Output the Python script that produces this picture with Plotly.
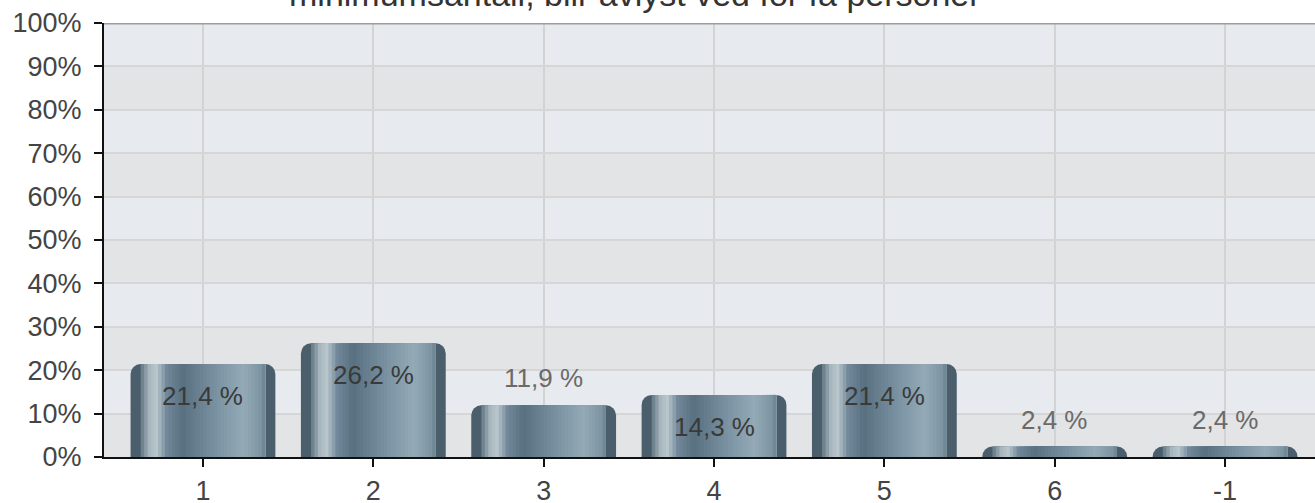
import plotly.graph_objects as go

# ---- data ----
categories = ["1", "2", "3", "4", "5", "6", "-1"]
values = [21.4, 26.2, 11.9, 14.3, 21.4, 2.4, 2.4]
label_inside = [True, True, False, True, True, False, False]
title_text = "minimumsantall, blir avlyst ved for få personer"
y_ticks = list(range(0, 101, 10))
y_tick_labels = [f"{v}%" for v in y_ticks]

FONT = "Liberation Sans, Arial, sans-serif"
BAR_W = 0.85

def hex_to_rgb(h):
    h = h.lstrip("#")
    return tuple(int(h[i:i + 2], 16) for i in (0, 2, 4))

profile = [(0.0, "#3d505b"), (0.06, "#566c79"), (0.13, "#a7b6be"), (0.18, "#b9c6cc"),
           (0.25, "#72889a"), (0.36, "#587080"), (0.58, "#7890a0"), (0.78, "#94aab6"),
           (0.9, "#7d94a2"), (0.96, "#556b78"), (1.0, "#3b4d58")]

def color_at(t):
    for (t0, c0), (t1, c1) in zip(profile[:-1], profile[1:]):
        if t0 <= t <= t1:
            f = (t - t0) / (t1 - t0) if t1 > t0 else 0
            a, b = hex_to_rgb(c0), hex_to_rgb(c1)
            r = [round(a[k] + (b[k] - a[k]) * f) for k in range(3)]
            return f"rgb({r[0]},{r[1]},{r[2]})"
    return profile[-1][1]

fig = go.Figure()

# base bar with rounded top
fig.add_trace(go.Bar(
    x=categories, y=values, width=BAR_W,
    marker=dict(color="#4a5f6b", cornerradius=10, line=dict(width=0)),
    hoverinfo="skip", showlegend=False,
))

# cylinder shading: layered strips, each reaching to the right shading edge
n_strips = 36
t_start, t_end = 0.07, 0.93
sw = (t_end - t_start) / n_strips
for i in range(n_strips):
    t0 = t_start + i * sw
    fig.add_trace(go.Bar(
        x=categories, y=values,
        width=(t_end - t0) * BAR_W,
        offset=-BAR_W / 2 + t0 * BAR_W,
        marker=dict(color=color_at(t0 + sw / 2), line=dict(width=0)),
        hoverinfo="skip", showlegend=False,
    ))

# value labels
annotations = []
for idx, (v, ins) in enumerate(zip(values, label_inside)):
    annotations.append(dict(
        x=idx, y=v, xref="x", yref="y",
        text=f"{v:.1f}".replace(".", ",") + " %",
        showarrow=False, yanchor="middle",
        yshift=-32 if ins else 27,
        font=dict(family=FONT, size=26, color="#3a3a3a" if ins else "#6a6a6a"),
    ))

annotations.append(dict(
    x=0.4385, y=1, xref="paper", yref="paper",
    text=title_text, showarrow=False, xanchor="center", yanchor="bottom",
    yshift=8, font=dict(family=FONT, size=34, color="#333333"),
))

shapes = []
# alternating background bands
for lo in range(10, 100, 20):
    shapes.append(dict(type="rect", xref="paper", yref="y", x0=0, x1=1, y0=lo, y1=lo + 10,
                       fillcolor="#e7eaee", line=dict(width=0), layer="below"))
# top border
shapes.append(dict(type="line", xref="paper", yref="y", x0=0, x1=1, y0=100, y1=100,
                   line=dict(color="#9c9c9c", width=3)))

fig.update_layout(
    width=1315, height=503,
    margin=dict(l=104, r=0, t=23, b=46, autoexpand=False),
    paper_bgcolor="white",
    plot_bgcolor="#e3e4e6",
    barmode="overlay",
    annotations=annotations,
    shapes=shapes,
    showlegend=False,
    font=dict(family=FONT, color="#555555"),
    xaxis=dict(
        type="category", range=[-0.581, 6.528], automargin=False,
        showgrid=True, gridcolor="#d3d3d3", gridwidth=2,
        showline=True, linecolor="#111111", linewidth=2,
        ticks="outside", ticklen=8, tickwidth=2, tickcolor="#111111",
        ticklabelstandoff=1,
        tickfont=dict(family=FONT, size=27, color="#444444"),
        zeroline=False, fixedrange=True,
    ),
    yaxis=dict(
        range=[0, 100], tickvals=y_ticks, ticktext=y_tick_labels, automargin=False,
        showgrid=True, gridcolor="#d6d6d6", gridwidth=2,
        showline=True, linecolor="#111111", linewidth=2,
        ticks="outside", ticklen=8, tickwidth=2, tickcolor="#111111",
        ticklabelstandoff=7,
        tickfont=dict(family=FONT, size=27, color="#444444"),
        zeroline=False, fixedrange=True,
    ),
)

fig.write_html(
    "out.html",
    config={"displayModeBar": False},
    post_script="document.body.style.margin='0';document.body.style.overflow='hidden';",
)
